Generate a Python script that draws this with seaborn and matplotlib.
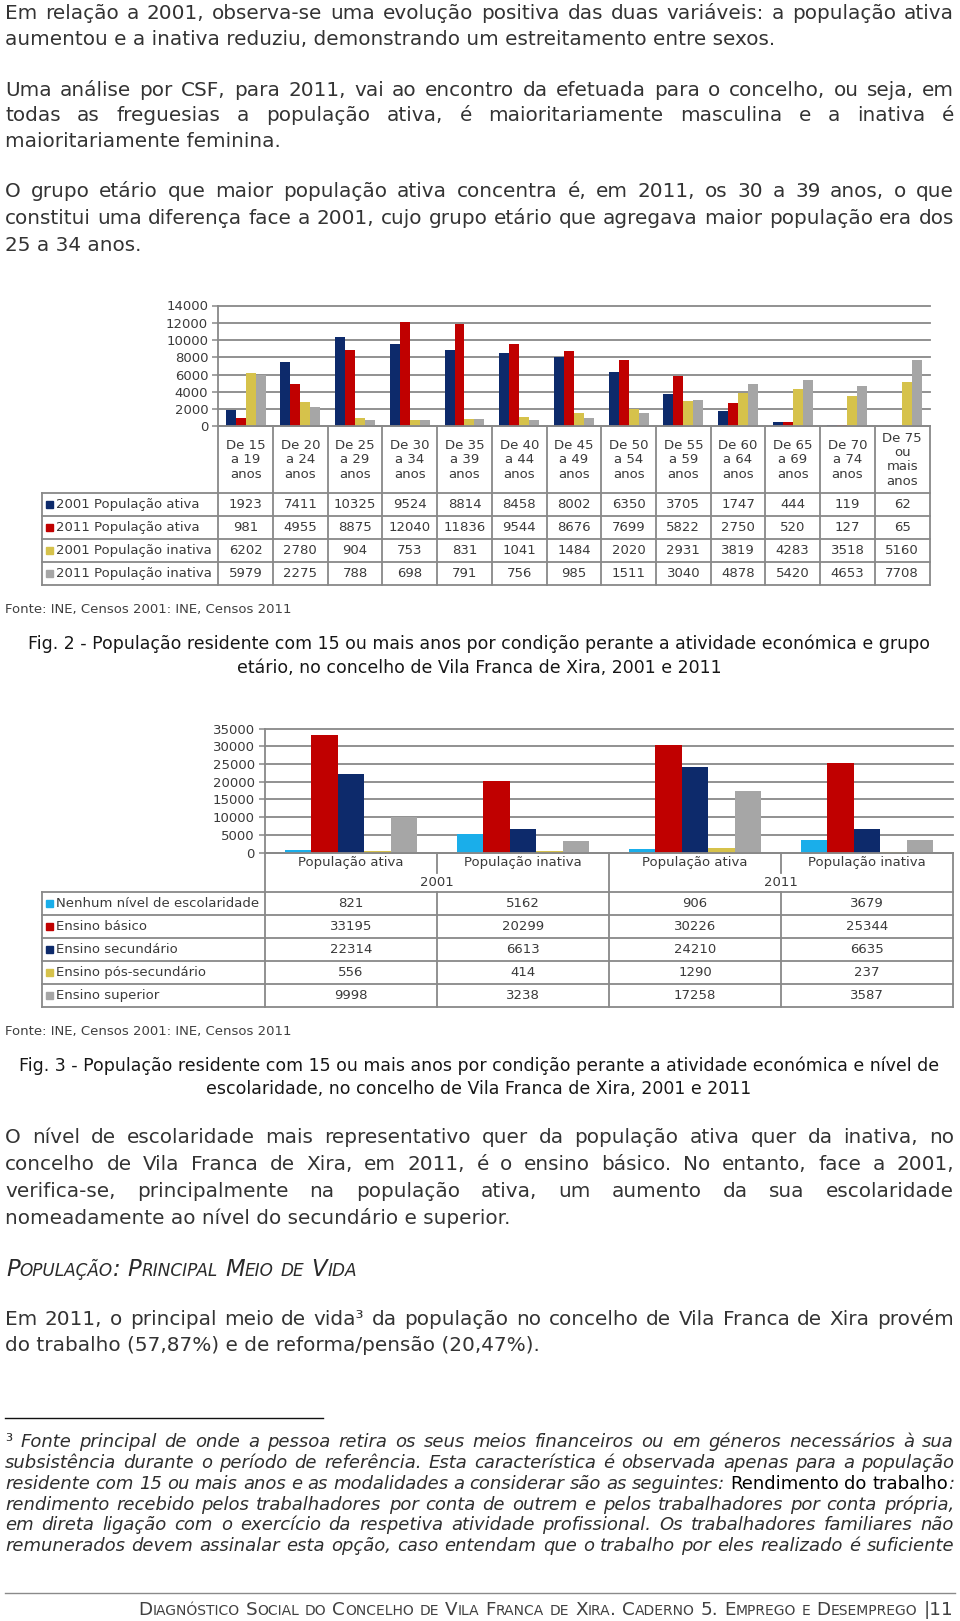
import numpy as np
import pandas as pd
import matplotlib
matplotlib.use("Agg")
import matplotlib.pyplot as plt
import matplotlib.transforms as mtransforms
from matplotlib.lines import Line2D
from matplotlib.patches import Rectangle
import seaborn as sns

# ---------------- data: figure 2 (age groups) ----------------
age_groups = ["De 15\na 19\nanos", "De 20\na 24\nanos", "De 25\na 29\nanos", "De 30\na 34\nanos",
              "De 35\na 39\nanos", "De 40\na 44\nanos", "De 45\na 49\nanos", "De 50\na 54\nanos",
              "De 55\na 59\nanos", "De 60\na 64\nanos", "De 65\na 69\nanos", "De 70\na 74\nanos",
              "De 75\nou\nmais\nanos"]
age_series = ["2001 População ativa", "2011 População ativa",
              "2001 População inativa", "2011 População inativa"]
ativa_2001 = [1923, 7411, 10325, 9524, 8814, 8458, 8002, 6350, 3705, 1747, 444, 119, 62]
ativa_2011 = [981, 4955, 8875, 12040, 11836, 9544, 8676, 7699, 5822, 2750, 520, 127, 65]
inativa_2001 = [6202, 2780, 904, 753, 831, 1041, 1484, 2020, 2931, 3819, 4283, 3518, 5160]
inativa_2011 = [5979, 2275, 788, 698, 791, 756, 985, 1511, 3040, 4878, 5420, 4653, 7708]
age_colors = ["#0D2A6B", "#C00000", "#D6C24B", "#A6A6A6"]
age_yticks = [0, 2000, 4000, 6000, 8000, 10000, 12000, 14000]

# ---------------- data: figure 3 (education) ----------------
edu_conditions = ["População ativa", "População inativa", "População ativa", "População inativa"]
edu_years = ["2001", "2001", "2011", "2011"]
edu_levels = ["Nenhum nível de escolaridade", "Ensino básico", "Ensino secundário",
              "Ensino pós-secundário", "Ensino superior"]
nenhum = [821, 5162, 906, 3679]
basico = [33195, 20299, 30226, 25344]
secundario = [22314, 6613, 24210, 6635]
pos_secundario = [556, 414, 1290, 237]
superior = [9998, 3238, 17258, 3587]
edu_colors = ["#1AAEEA", "#C00000", "#0D2A6B", "#D6C24B", "#A6A6A6"]
edu_yticks = [0, 5000, 10000, 15000, 20000, 25000, 30000, 35000]

GRID = "#888888"
TXT = "#3a3a3a"
BODY = "#333333"

W, H = 960, 1621
plt.rcParams["font.family"] = ["DejaVu Sans"]
fig = plt.figure(figsize=(W / 100, H / 100), dpi=100)
fig.patch.set_facecolor("white")
ov = fig.add_axes([0, 0, 1, 1])
ov.set_xlim(0, W)
ov.set_ylim(H, 0)
ov.set_axis_off()
renderer = fig.canvas.get_renderer()


def measure(s, **kw):
    t = ov.text(0, 0, s, **kw)
    w = t.get_window_extent(renderer).width
    t.remove()
    return w


def advance(s, **kw):
    return measure("|" + s + "|", **kw) - measure("||", **kw)


def space_w(**kw):
    return measure("n n", **kw) - measure("nn", **kw)


def words_of(line):
    if isinstance(line, str):
        return [[(w, {})] for w in line.split(" ")]
    return line


def draw_line(line, yc, fs, justify, base, x0=5, x1=954):
    kw = dict(base, fontsize=fs)
    yb = yc + 0.33 * fs * 100 / 72
    if not justify and isinstance(line, str):
        ov.text(x0, yb, line, ha="left", va="baseline", **kw)
        return
    words = words_of(line)
    widths = []
    for w in words:
        ws = []
        for k, (t, p) in enumerate(w):
            if k < len(w) - 1:
                ws.append(advance(t, **{**kw, **p}))
            else:
                ws.append(measure(t, **{**kw, **p}))
        widths.append(ws)
    tot = sum(sum(ws) for ws in widths)
    if justify and len(words) > 1:
        gap = (x1 - x0 - tot) / (len(words) - 1)
    else:
        gap = space_w(**kw)
    x = x0
    for w, ws in zip(words, widths):
        for (t, p), sw in zip(w, ws):
            ov.text(x, yb, t, ha="left", va="baseline", **{**kw, **p})
            x += sw
        x += gap


def paragraph(lines, ycs, fs, base):
    for k, (ln, yc) in enumerate(zip(lines, ycs)):
        draw_line(ln, yc, fs, k < len(lines) - 1, base)


body_base = dict(color=BODY)
BODY_FS = 13.0 * 766 / measure(
    "aumentou e a inativa reduziu, demonstrando um estreitamento entre sexos.", fontsize=13.0)

# ---------------- top paragraphs ----------------
paragraph(["Em relação a 2001, observa-se uma evolução positiva das duas variáveis: a população ativa",
           "aumentou e a inativa reduziu, demonstrando um estreitamento entre sexos."],
          [12.4, 38.2], BODY_FS, body_base)
paragraph(["Uma análise por CSF, para 2011, vai ao encontro da efetuada para o concelho, ou seja, em",
           "todas as freguesias a população ativa, é maioritariamente masculina e a inativa é",
           "maioritariamente feminina."],
          [88.9, 114.7, 140.5], BODY_FS, body_base)
paragraph(["O grupo etário que maior população ativa concentra é, em 2011, os 30 a 39 anos, o que",
           "constitui uma diferença face a 2001, cujo grupo etário que agregava maior população era dos",
           "25 a 34 anos."],
          [190.1, 217.0, 243.9], BODY_FS, body_base)


def px_rect(x0, y0, x1, y1):
    return [x0 / W, 1 - y1 / H, (x1 - x0) / W, (y1 - y0) / H]


def style_axes(ax, ticks, ncat):
    ax.set_xlim(-0.5, ncat - 0.5)
    ax.set_ylim(ticks[0], ticks[-1])
    ax.set_yticks(ticks)
    ax.set_yticklabels([str(t) for t in ticks])
    ax.set_xticks([])
    ax.set_xlabel("")
    ax.set_ylabel("")
    ax.yaxis.grid(True, color=GRID, lw=1.3)
    ax.set_axisbelow(True)
    for s in ["top", "right"]:
        ax.spines[s].set_visible(False)
    for s in ["left", "bottom"]:
        ax.spines[s].set_color(GRID)
        ax.spines[s].set_linewidth(1.3)
    ax.tick_params(axis="y", length=4.5, width=1.1, color=GRID, labelsize=9.5,
                   labelcolor=TXT, pad=2.8)
    ax.patch.set_alpha(0)
    for gl in ax.yaxis.get_gridlines():
        gl.set_clip_on(False)


def hline(x0, x1, y, **kw):
    ov.add_line(Line2D([x0, x1], [y, y], color=GRID, lw=1.3, clip_on=False, **kw))


def vline(x, y0, y1, transform=None):
    ov.add_line(Line2D([x, x], [y0, y1], color=GRID, lw=1.3, clip_on=False,
                       transform=transform if transform is not None else ov.transData))


TFS = 9.5

# ---------------- chart 1 ----------------
ax1 = fig.add_axes(px_rect(218.3, 305.5, 929.5, 426.3))
df1 = pd.DataFrame({
    "grupo": age_groups * len(age_series),
    "serie": [s for s in age_series for _ in age_groups],
    "valor": ativa_2001 + ativa_2011 + inativa_2001 + inativa_2011,
})
sns.barplot(data=df1, x="grupo", y="valor", hue="serie", order=age_groups,
            hue_order=age_series, palette=age_colors, width=0.73, saturation=1,
            errorbar=None, legend=False, linewidth=0, ax=ax1)
style_axes(ax1, age_yticks, len(age_groups))

bt1 = mtransforms.blended_transform_factory(ax1.transData, ov.transData)
right1 = ax1.transData.transform((len(age_groups) - 0.5, 0))[0]
t1_top, t1_lab = 426.3, 493.3
rows1 = [493.3, 516.3, 539.3, 562.3, 585.3]
for i in range(len(age_groups) + 1):
    vline(i - 0.5, t1_top, rows1[-1], transform=bt1)
vline(41.7, rows1[0], rows1[-1])
for y in rows1:
    hline(41.7, right1, y)
for i, lab in enumerate(age_groups):
    ov.text(i, (t1_top + t1_lab) / 2, lab, transform=bt1, ha="center", va="center",
            multialignment="center", fontsize=TFS, color=TXT, linespacing=1.13)
for j, (name, vals, col) in enumerate(zip(age_series,
                                          [ativa_2001, ativa_2011, inativa_2001, inativa_2011],
                                          age_colors)):
    yc = (rows1[j] + rows1[j + 1]) / 2
    ov.add_patch(Rectangle((46, yc - 3.5), 7, 7, color=col, clip_on=False))
    ov.text(56, yc, name, ha="left", va="center", fontsize=TFS, color=TXT)
    for i, v in enumerate(vals):
        ov.text(i, yc, str(v), transform=bt1, ha="center", va="center", fontsize=TFS, color=TXT)

# ---------------- captions ----------------
FONTE = "Fonte: INE, Censos 2001: INE, Censos 2011"
FONTE_FS = 9.0 * 287 / measure(FONTE, fontsize=9.0)
CAP1 = "Fig. 2 - População residente com 15 ou mais anos por condição perante a atividade económica e grupo"
CAP_FS = 11.0 * 902 / measure(CAP1, fontsize=11.0)
CAPC = "#161616"

ov.text(5, 609.7, FONTE, ha="left", va="center", fontsize=FONTE_FS, color="#404040")
ov.text(479, 643.8, CAP1, ha="center", va="center", fontsize=CAP_FS, color=CAPC)
ov.text(479, 667.6, "etário, no concelho de Vila Franca de Xira, 2001 e 2011",
        ha="center", va="center", fontsize=CAP_FS, color=CAPC)

# ---------------- chart 2 ----------------
ax2 = fig.add_axes(px_rect(265.0, 728.5, 953.0, 852.7))
cat_keys = [f"{y} {c}" for y, c in zip(edu_years, edu_conditions)]
edu_values = [nenhum, basico, secundario, pos_secundario, superior]
df2 = pd.DataFrame({
    "cat": cat_keys * len(edu_levels),
    "nivel": [lv for lv in edu_levels for _ in cat_keys],
    "valor": sum(edu_values, []),
})
sns.barplot(data=df2, x="cat", y="valor", hue="nivel", order=cat_keys, hue_order=edu_levels,
            palette=edu_colors, width=0.77, saturation=1, errorbar=None, legend=False,
            linewidth=0, ax=ax2)
style_axes(ax2, edu_yticks, len(cat_keys))

bt2 = mtransforms.blended_transform_factory(ax2.transData, ov.transData)
right2 = ax2.transData.transform((len(cat_keys) - 0.5, 0))[0]
t2_top, t2_mid, t2_lab = 852.7, 872.5, 892.3
rows2 = [892.3, 915.3, 938.3, 961.3, 984.3, 1007.3]
for i in range(len(cat_keys) + 1):
    xb = i - 0.5
    inner = i not in (0, 2, 4)
    vline(xb, t2_top, t2_mid if inner else rows2[-1], transform=bt2)
    if inner:
        vline(xb, rows2[0], rows2[-1], transform=bt2)
vline(41.7, rows2[0], rows2[-1])
for y in rows2:
    hline(41.7, right2, y)
for i, c in enumerate(edu_conditions):
    ov.text(i, 862.5, c, transform=bt2, ha="center", va="center", fontsize=TFS, color=TXT)
for k, yr in enumerate(["2001", "2011"]):
    ov.text(2 * k + 0.5, 882.0, yr, transform=bt2, ha="center", va="center",
            fontsize=TFS, color=TXT)
for j, (name, vals, col) in enumerate(zip(edu_levels, edu_values, edu_colors)):
    yc = (rows2[j] + rows2[j + 1]) / 2
    ov.add_patch(Rectangle((46, yc - 3.5), 7, 7, color=col, clip_on=False))
    ov.text(56, yc, name, ha="left", va="center", fontsize=TFS, color=TXT)
    for i, v in enumerate(vals):
        ov.text(i, yc, str(v), transform=bt2, ha="center", va="center", fontsize=TFS, color=TXT)

ov.text(5, 1031.3, FONTE, ha="left", va="center", fontsize=FONTE_FS, color="#404040")
ov.text(479, 1065.4,
        "Fig. 3 - População residente com 15 ou mais anos por condição perante a atividade económica e nível de",
        ha="center", va="center", fontsize=CAP_FS, color=CAPC)
ov.text(479, 1089.2, "escolaridade, no concelho de Vila Franca de Xira, 2001 e 2011",
        ha="center", va="center", fontsize=CAP_FS, color=CAPC)

# ---------------- lower paragraphs ----------------
paragraph(["O nível de escolaridade mais representativo quer da população ativa quer da inativa, no",
           "concelho de Vila Franca de Xira, em 2011, é o ensino básico. No entanto, face a 2001,",
           "verifica-se, principalmente na população ativa, um aumento da sua escolaridade",
           "nomeadamente ao nível do secundário e superior."],
          [1136.7, 1163.5, 1190.4, 1217.3], BODY_FS, body_base)


# small caps helper
def sc_runs(text):
    runs = []
    for ch in text:
        kind = "sp" if ch == " " else ("s" if ch.islower() else "b")
        c = ch.upper()
        if runs and runs[-1][1] == kind and kind != "sp":
            runs[-1][0] += c
        else:
            runs.append([c, kind])
    return runs


def sc_widths(runs, big, small, kw):
    return [advance(s, fontsize=big if k in ("b", "sp") else small, **kw) for s, k in runs]


def small_caps(text, x, yb, target_w, ratio, kw, align="left"):
    runs = sc_runs(text)
    big = 12.0
    ws = sc_widths(runs, big, big * ratio, kw)
    big = big * target_w / sum(ws)
    small = big * ratio
    ws = sc_widths(runs, big, small, kw)
    x = x if align == "left" else x - sum(ws)
    for (s, k), w in zip(runs, ws):
        if k != "sp":
            ov.text(x, yb, s, ha="left", va="baseline",
                    fontsize=big if k == "b" else small, **kw)
        x += w


small_caps("População: Principal Meio de Vida", 6, 1276.0, 352, 0.74,
           dict(color="#2a2a2a", fontstyle="italic"))

paragraph(["Em 2011, o principal meio de vida³ da população no concelho de Vila Franca de Xira provém",
           "do trabalho (57,87%) e de reforma/pensão (20,47%)."],
          [1318.6, 1344.5], BODY_FS, body_base)

# ---------------- footnote ----------------
ov.add_line(Line2D([5, 323], [1417.8, 1417.8], color="#111111", lw=1.0))
fn_base = dict(color="#2e2e2e", fontstyle="italic")
FN6 = "remunerados devem assinalar esta opção, caso entendam que o trabalho por eles realizado é suficiente"
FN_FS = 10.5 * 944 / measure(FN6, fontsize=10.5, fontstyle="italic")
upright = dict(fontstyle="normal", color="#000000")
fn_line3 = words_of("residente com 15 ou mais anos e as modalidades a considerar são as seguintes:") + [
    [("Rendimento", upright)], [("do", upright)], [("trabalho", upright), (":", {})]]
fn_lines = [
    [[("³", dict(fontstyle="normal"))]] + words_of(
        "Fonte principal de onde a pessoa retira os seus meios financeiros ou em géneros necessários à sua"),
    "subsistência durante o período de referência. Esta característica é observada apenas para a população",
    fn_line3,
    "rendimento recebido pelos trabalhadores por conta de outrem e pelos trabalhadores por conta própria,",
    "em direta ligação com o exercício da respetiva atividade profissional. Os trabalhadores familiares não",
    FN6,
]
for ln, yc in zip(fn_lines, [1440.6, 1462.3, 1482.9, 1503.6, 1524.3, 1545.0]):
    draw_line(ln, yc, FN_FS, True, fn_base)

# ---------------- footer ----------------
ov.add_line(Line2D([5, 955], [1592.5, 1592.5], color="#8a8a8a", lw=1.0))
small_caps("Diagnóstico Social do Concelho de Vila Franca de Xira. Caderno 5. Emprego e Desemprego |11",
           953, 1615.0, 815, 0.76, dict(color="#404040"), align="right")

fig.savefig("out.png", dpi=100, facecolor="white")
